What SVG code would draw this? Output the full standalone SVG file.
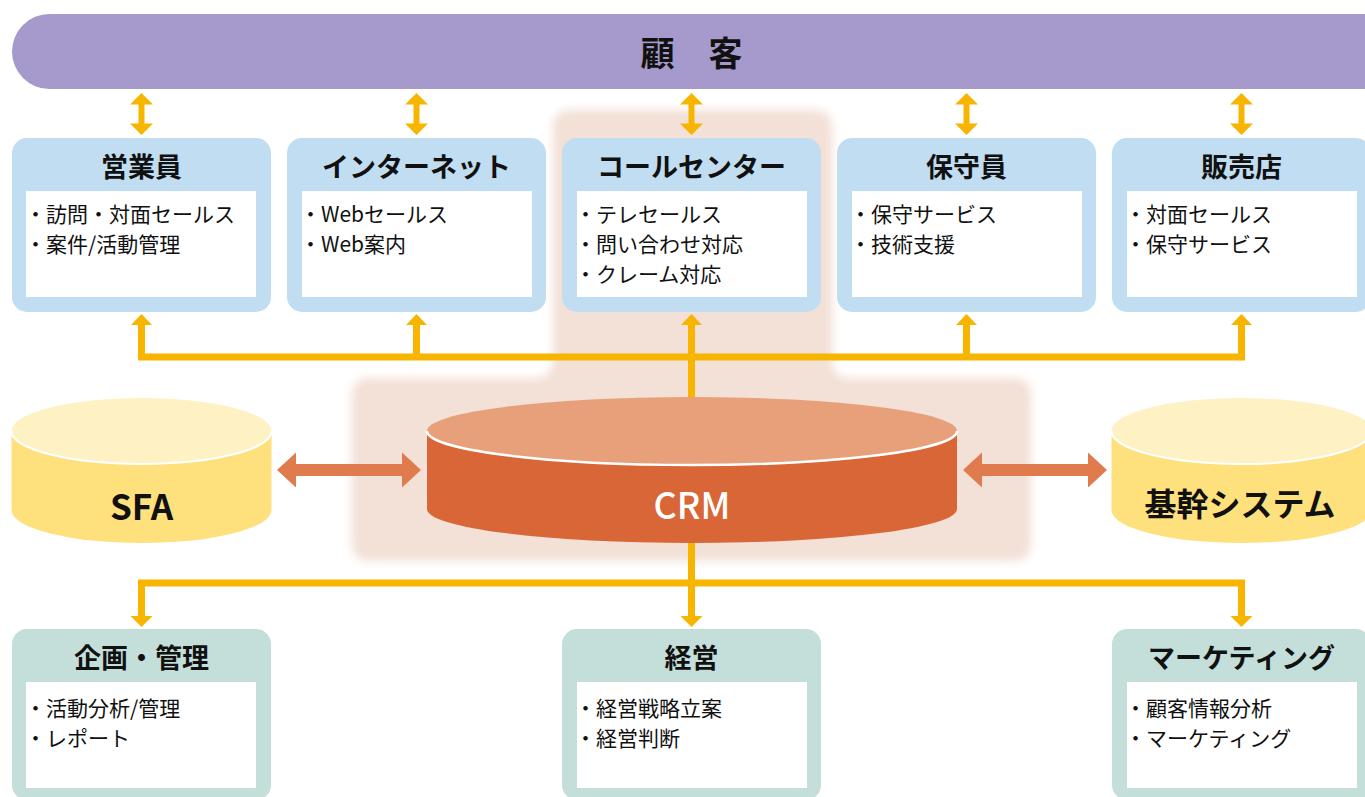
<svg xmlns="http://www.w3.org/2000/svg" xmlns:xlink="http://www.w3.org/1999/xlink" width="1365" height="797" viewBox="0 0 1365 797">
<defs>
<style>
.t{font-family:"Noto Sans CJK JP","Noto Sans",sans-serif;fill:#111;}
.title{font-size:27px;font-weight:700;text-anchor:middle;dominant-baseline:central;}
.body{font-size:21px;dominant-baseline:central;}
.top{fill:#c1ddf2;}
.bot{fill:#c4dfda;}
.inner{fill:#ffffff;}
.ybus{fill:none;stroke:#f8b500;stroke-width:7;stroke-linejoin:miter;}
.yhead{fill:#f8b500;}
.oarrow{fill:#e07b4e;}
</style>
<filter id="soft" x="-10%" y="-10%" width="120%" height="120%">
<feGaussianBlur stdDeviation="5"/>
</filter>
<path id="dbl" d="M0 93 L11.5 104.5 L3 104.5 L3 123.5 L11.5 123.5 L0 135 L-11.5 123.5 L-3 123.5 L-3 104.5 L-11.5 104.5 Z"/>
<path id="up" d="M0 314 L10.5 325 L-10.5 325 Z"/>
<path id="down" d="M0 627 L11 616 L-11 616 Z"/>
</defs>

<rect width="1365" height="797" fill="#ffffff"/>

<!-- highlight -->
<path id="highlight" d="M571 110 H814 Q832 110 832 128 V360 Q832 378 850 378 H1013 Q1031 378 1031 396 V543 Q1031 561 1013 561 H370 Q352 561 352 543 V396 Q352 378 370 378 H535 Q553 378 553 360 V128 Q553 110 571 110 Z" fill="#f3e0d6" filter="url(#soft)"/>

<!-- customer bar -->
<g id="customer">
<rect x="12" y="14" width="1400" height="75" rx="37.5" fill="#a59acb"/>
<text class="t" x="691.5" y="51" font-size="34" font-weight="700" text-anchor="middle" dominant-baseline="central">顧　客</text>
</g>

<!-- connectors -->
<g id="connectors">
<g class="yhead">
<use xlink:href="#dbl" x="141.5"/>
<use xlink:href="#dbl" x="416.5"/>
<use xlink:href="#dbl" x="691.5"/>
<use xlink:href="#dbl" x="966.5"/>
<use xlink:href="#dbl" x="1241.5"/>
</g>
<path class="ybus" d="M141.5 324 V357 H1241.5 V324"/>
<path class="ybus" d="M416.5 324 V357 M691.5 324 V440 M966.5 324 V357"/>
<g class="yhead">
<use xlink:href="#up" x="141.5"/>
<use xlink:href="#up" x="416.5"/>
<use xlink:href="#up" x="691.5"/>
<use xlink:href="#up" x="966.5"/>
<use xlink:href="#up" x="1241.5"/>
</g>
<path class="ybus" d="M141.5 617 V583 H1241.5 V617"/>
<path class="ybus" d="M691.5 520 V617"/>
<g class="yhead">
<use xlink:href="#down" x="141.5"/>
<use xlink:href="#down" x="691.5"/>
<use xlink:href="#down" x="1241.5"/>
</g>
<path class="oarrow" d="M277 470 L296 452.5 L296 464 L402 464 L402 452.5 L421 470 L402 487.5 L402 476 L296 476 L296 487.5 Z"/>
<path class="oarrow" d="M963 470 L982 452.5 L982 464 L1088 464 L1088 452.5 L1107 470 L1088 487.5 L1088 476 L982 476 L982 487.5 Z"/>
</g>

<!-- top boxes -->
<g id="sales">
<rect class="top" x="12" y="138" width="259" height="174" rx="15"/>
<rect class="inner" x="26" y="191" width="230" height="106"/>
<text class="t title" x="141.5" y="165">営業員</text>
<text class="t body" x="25" y="213">・訪問・対面セールス</text>
<text class="t body" x="25" y="243">・案件/活動管理</text>
</g>
<g id="internet">
<rect class="top" x="287" y="138" width="259" height="174" rx="15"/>
<rect class="inner" x="302" y="191" width="230" height="106"/>
<text class="t title" x="416.5" y="165">インターネット</text>
<text class="t body" x="300" y="213">・Webセールス</text>
<text class="t body" x="300" y="243">・Web案内</text>
</g>
<g id="callcenter">
<rect class="top" x="562" y="138" width="259" height="174" rx="15"/>
<rect class="inner" x="577" y="191" width="230" height="106"/>
<text class="t title" x="691.5" y="165">コールセンター</text>
<text class="t body" x="575" y="213">・テレセールス</text>
<text class="t body" x="575" y="243">・問い合わせ対応</text>
<text class="t body" x="575" y="273">・クレーム対応</text>
</g>
<g id="maintenance">
<rect class="top" x="837" y="138" width="259" height="174" rx="15"/>
<rect class="inner" x="852" y="191" width="230" height="106"/>
<text class="t title" x="966.5" y="165">保守員</text>
<text class="t body" x="850" y="213">・保守サービス</text>
<text class="t body" x="850" y="243">・技術支援</text>
</g>
<g id="dealer">
<rect class="top" x="1112" y="138" width="259" height="174" rx="15"/>
<rect class="inner" x="1127" y="191" width="230" height="106"/>
<text class="t title" x="1241.5" y="165">販売店</text>
<text class="t body" x="1125" y="213">・対面セールス</text>
<text class="t body" x="1125" y="243">・保守サービス</text>
</g>

<!-- databases -->
<g id="sfa">
<path d="M11.5 431 V510 A130 33 0 0 0 271.5 510 V431 Z" fill="#fee17d"/>
<ellipse cx="141.5" cy="431" rx="130" ry="33" fill="#fef1c3"/>
<path d="M11.5 431 A130 33 0 0 0 271.5 431" fill="none" stroke="#ffffff" stroke-width="2"/>
<text class="t" x="141.5" y="504" font-size="35" font-weight="700" text-anchor="middle" dominant-baseline="central">SFA</text>
</g>
<g id="crm">
<path d="M427 431 V509 A265 34 0 0 0 957 509 V431 Z" fill="#d96636"/>
<ellipse cx="692" cy="431" rx="265" ry="34" fill="#e8a07a"/>
<path d="M427 431 A265 34 0 0 0 957 431" fill="none" stroke="#ffffff" stroke-width="2.5"/>
<text class="t" x="692" y="503" font-size="36" font-weight="500" fill="#ffffff" style="fill:#ffffff" text-anchor="middle" dominant-baseline="central">CRM</text>
</g>
<g id="core">
<path d="M1111.5 431 V510 A130 33 0 0 0 1371.5 510 V431 Z" fill="#fee17d"/>
<ellipse cx="1241.5" cy="431" rx="130" ry="33" fill="#fef1c3"/>
<path d="M1111.5 431 A130 33 0 0 0 1371.5 431" fill="none" stroke="#ffffff" stroke-width="2"/>
<text class="t" x="1240" y="502" font-size="32" font-weight="700" text-anchor="middle" dominant-baseline="central">基幹システム</text>
</g>

<!-- bottom boxes -->
<g id="planning">
<rect class="bot" x="12" y="629" width="259" height="171" rx="15"/>
<rect class="inner" x="26" y="682" width="230" height="106"/>
<text class="t title" x="141.5" y="656">企画・管理</text>
<text class="t body" x="25" y="707">・活動分析/管理</text>
<text class="t body" x="25" y="737">・レポート</text>
</g>
<g id="management">
<rect class="bot" x="562" y="629" width="259" height="171" rx="15"/>
<rect class="inner" x="577" y="682" width="230" height="106"/>
<text class="t title" x="691.5" y="656">経営</text>
<text class="t body" x="575" y="707">・経営戦略立案</text>
<text class="t body" x="575" y="737">・経営判断</text>
</g>
<g id="marketing">
<rect class="bot" x="1112" y="629" width="259" height="171" rx="15"/>
<rect class="inner" x="1127" y="682" width="230" height="106"/>
<text class="t title" x="1241.5" y="656">マーケティング</text>
<text class="t body" x="1125" y="707">・顧客情報分析</text>
<text class="t body" x="1125" y="737">・マーケティング</text>
</g>
</svg>
